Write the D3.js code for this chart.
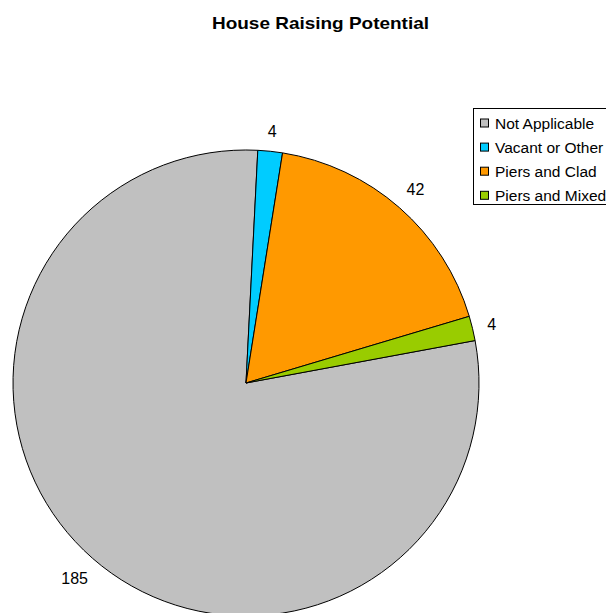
<!DOCTYPE html>
<html>
<head>
<meta charset="utf-8">
<script src="https://cdn.jsdelivr.net/npm/d3@7"></script>
<style>
  body { margin: 0; background: #fff; }
  svg { display: block; font-family: Arial, "Liberation Sans", sans-serif; }
</style>
</head>
<body>
<div id="chart"></div>
<script>
// chart data
var categories = ["Not Applicable", "Vacant or Other", "Piers and Clad", "Piers and Mixed"];
var values = [185, 4, 42, 4];
var colors = ["#c0c0c0", "#00ccff", "#ff9900", "#99cc00"];
var title = "House Raising Potential";

var width = 606, height = 613;
var cx = 246, cy = 383, radius = 233;
var startDeg = 79.5;

var svg = d3
  .select("#chart")
  .append("svg")
  .attr("width", width)
  .attr("height", height);

svg.append("text")
  .attr("x", 320.5)
  .attr("y", 28.5)
  .attr("text-anchor", "middle")
  .attr("textLength", 217)
  .attr("lengthAdjust", "spacingAndGlyphs")
  .style("font-size", "17px")
  .style("font-weight", "bold")
  .text(title);

var data = categories.map(function (c, i) {
  return { name: c, value: values[i], color: colors[i] };
});

var pie = d3.pie()
  .value(function (d) { return d.value; })
  .sort(null)
  .startAngle(startDeg * Math.PI / 180)
  .endAngle(startDeg * Math.PI / 180 + 2 * Math.PI);

var arcs = pie(data);
var arc = d3.arc().innerRadius(0).outerRadius(radius);

var g = svg.append("g").attr("transform", "translate(" + cx + "," + cy + ")");

g.selectAll("path")
  .data(arcs)
  .enter()
  .append("path")
  .attr("d", arc)
  .attr("fill", function (d) { return d.data.color; })
  .attr("stroke", "#000")
  .attr("stroke-width", 1);

// value labels: box sits just outside the rim
g.selectAll("text.lbl")
  .data(arcs)
  .enter()
  .append("text")
  .attr("class", "lbl")
  .attr("text-anchor", "middle")
  .attr("dy", "0.36em")
  .style("font-size", "16px")
  .text(function (d) { return d.data.value; })
  .attr("transform", function (d) {
    var a = (d.startAngle + d.endAngle) / 2;
    var w = this.getComputedTextLength(), h = 11.5;
    var ext = Math.abs(Math.sin(a)) * w / 2 + Math.abs(Math.cos(a)) * h / 2;
    var r = radius + 14 + ext;
    return "translate(" + (r * Math.sin(a)) + "," + (-r * Math.cos(a)) + ")";
  });

// legend
var legend = svg.append("g").attr("transform", "translate(473,108)");
legend.append("rect")
  .attr("x", 0.5)
  .attr("y", 0.5)
  .attr("width", 160)
  .attr("height", 96)
  .attr("fill", "#fff")
  .attr("stroke", "#000");

var item = legend.selectAll("g.item")
  .data(data)
  .enter()
  .append("g")
  .attr("class", "item")
  .attr("transform", function (d, i) { return "translate(0," + (15.5 + i * 24.1) + ")"; });

item.append("rect")
  .attr("x", 7.5)
  .attr("y", -4.5)
  .attr("width", 8)
  .attr("height", 8)
  .attr("fill", function (d) { return d.color; })
  .attr("stroke", "#000");

item.append("text")
  .attr("x", 22)
  .attr("dy", "0.36em")
  .style("font-size", "15.5px")
  .text(function (d) { return d.name; });
</script>
</body>
</html>
